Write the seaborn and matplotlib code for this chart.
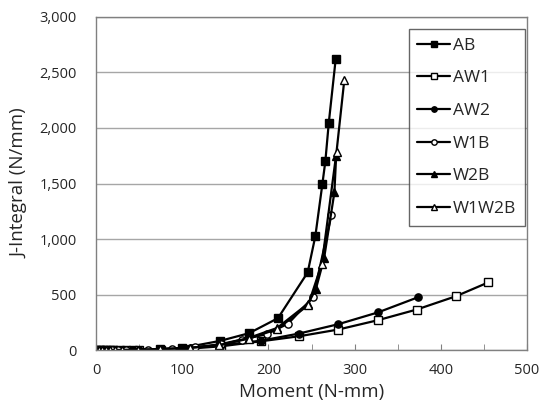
import matplotlib
matplotlib.use("Agg")
import matplotlib.pyplot as plt
import seaborn as sns
from matplotlib.ticker import MultipleLocator, FuncFormatter

# values
ab_x = [0, 4, 8, 12, 16, 20, 28, 43, 74, 100, 144, 177.5, 211, 245.5, 254.4, 262.5, 266, 270, 278]
ab_y = [0, 0, 0, 1, 1, 1, 2, 4, 10, 20, 84, 153, 288, 700, 1027, 1493, 1700, 2048, 2620]

aw1_x = [0, 5, 10, 20, 35, 50, 75, 110, 145, 191, 236, 281, 327, 372, 417.6, 455]
aw1_y = [0, 0, 0, 1, 2, 3, 6, 15, 35, 80, 126, 186, 270, 366, 486, 610]

aw2_x = [0, 5, 10, 20, 35, 50, 75, 110, 145, 191, 235.5, 281, 327, 373]
aw2_y = [0, 0, 0, 1, 2, 4, 8, 20, 45, 85, 150, 234, 340, 475]

w1b_x = [0, 6, 12, 18, 25, 35, 60, 88, 115, 145, 169, 198, 223, 252, 273]
w1b_y = [0, 0, 0, 1, 1, 2, 5, 12, 25, 55, 96, 144, 240, 480, 1215]

w2b_x = [0, 5, 10, 15, 22, 30, 49, 74, 109, 143, 177, 210, 246, 255, 264.5, 276.5, 278.5]
w2b_y = [0, 0, 0, 1, 1, 2, 4, 9, 22, 45, 110, 200, 420, 550, 826, 1420, 1745]

w1w2b_x = [0, 3, 7, 11, 16, 22, 30, 49, 74, 109, 143, 177.5, 210, 246, 262, 279, 288]
w1w2b_y = [0, 0, 0, 0, 1, 1, 2, 4, 9, 22, 45, 105, 189, 405, 780, 1787, 2432]

series = [
    ("AB", ab_x, ab_y, "s", "black"),
    ("AW1", aw1_x, aw1_y, "s", "white"),
    ("AW2", aw2_x, aw2_y, "o", "black"),
    ("W1B", w1b_x, w1b_y, "o", "white"),
    ("W2B", w2b_x, w2b_y, "^", "black"),
    ("W1W2B", w1w2b_x, w1w2b_y, "^", "white"),
]

sns.set_style("white")
plt.rcParams["font.family"] = ["Open Sans", "DejaVu Sans"]

fig, ax = plt.subplots(figsize=(5.49, 4.12), dpi=100)
fig.subplots_adjust(left=0.175, right=0.96, bottom=0.150, top=0.959)

for name, xs, ys, mk, fc in series:
    sns.lineplot(x=xs, y=ys, ax=ax, sort=False, color="black", linewidth=1.6,
                 marker=mk, markersize=5.2, markerfacecolor=fc,
                 markeredgecolor="black", markeredgewidth=1.0, label=name)

ax.set_xlim(0, 500)
ax.set_ylim(0, 3000)
ax.xaxis.set_major_locator(MultipleLocator(100))
ax.xaxis.set_minor_locator(MultipleLocator(50))
ax.yaxis.set_major_locator(MultipleLocator(500))
ax.yaxis.set_major_formatter(FuncFormatter(lambda v, p: f"{int(v):,}"))

ax.grid(axis="y", color="#a6a6a6", linewidth=1.0)
ax.set_axisbelow(True)
for sp in ax.spines.values():
    sp.set_color("#808080")
    sp.set_linewidth(1.0)

ax.tick_params(axis="x", which="both", direction="in", length=4, color="#808080",
               labelsize=10.5, pad=9, bottom=True)
ax.tick_params(axis="y", length=0, labelsize=10.5, pad=14)

ax.set_xlabel("Moment (N-mm)", fontsize=13.5, labelpad=4)
ax.set_ylabel("J-Integral (N/mm)", fontsize=13.5, labelpad=8)

leg = ax.legend(loc="upper right", bbox_to_anchor=(0.995, 0.964), borderaxespad=0,
                fontsize=12.5, frameon=True, fancybox=False, edgecolor="#404040",
                handlelength=1.9, labelspacing=0.95, borderpad=0.5,
                handletextpad=0.15, markerscale=0.75)
leg.get_frame().set_linewidth(1.0)

fig.savefig("out.png", dpi=100)
